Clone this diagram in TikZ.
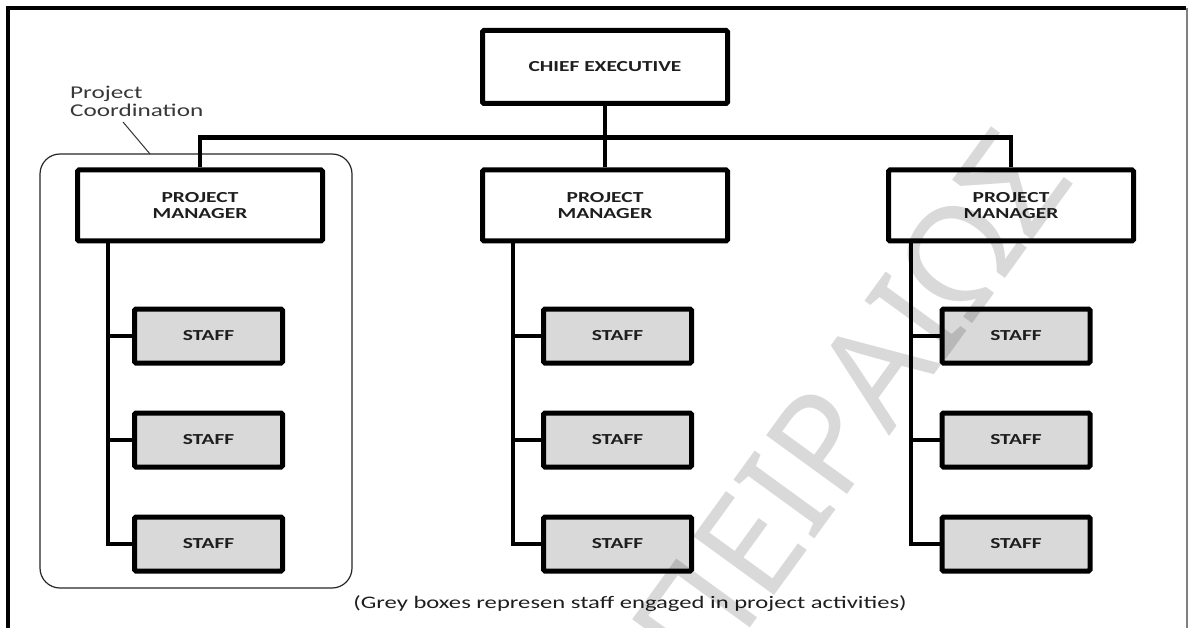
\documentclass[tikz,border=0pt]{standalone}
\usepackage{fontspec}
\setmainfont{Carlito}[FakeStretch=1.4]
\newfontfamily\markfont{Noto Sans}
\usetikzlibrary{fit}
\definecolor{staffgrey}{RGB}{217,217,217}
\definecolor{inkgrey}{RGB}{30,30,30}
\definecolor{notegrey}{RGB}{55,55,55}
\begin{document}
\begin{tikzpicture}[x=1pt,y=-1pt,
  box/.style={draw=black, line width=5pt, rounded corners=1.5pt, fill=white,
    font=\bfseries\fontsize{15.3}{16}\selectfont, text=inkgrey, align=center, inner sep=0pt},
  headbox/.style={box, minimum width=245pt, minimum height=73pt},
  pmbox/.style={box, minimum width=245pt, minimum height=71pt},
  staffbox/.style={box, fill=staffgrey, minimum width=148pt, minimum height=54pt},
  link/.style={line width=4.5pt, line join=miter},
  groupframe/.style={draw=black!85, line width=1.2pt, rounded corners=20pt,
    minimum width=312pt, minimum height=434pt, inner sep=0pt},
  note/.style={font=\fontsize{18}{18}\selectfont, text=notegrey, inner sep=0pt},
]
\useasboundingbox (0,0) rectangle (1188,628);

% page frame
\coordinate (ftl) at (8,8);
\coordinate (ftr) at (1186,8);
\coordinate (fbl) at (8,628);
\coordinate (frt) at (1187,8);
\coordinate (frb) at (1187,628);
\draw[line width=4pt] (fbl) -- (ftl) -- (ftr);
\draw[gray, line width=1.5pt] (frt) -- (frb);

% project coordination group
\node[groupframe] (grp) at (196,371) {};
\node[note, anchor=west, align=left] (lbl) at (70,101) {Project\\Coordination};
\coordinate (leadtop) at (123,122);
\coordinate (leadbot) at (150,154);
\draw[line width=1pt, black!80] (leadtop) -- (leadbot);

% boxes
\node[headbox] (ce) at (605,67) {CHIEF EXECUTIVE};
\node[pmbox] (pmL) at (200,205.5) {PROJECT\\MANAGER};
\node[pmbox] (pmM) at (605,205.5) {PROJECT\\MANAGER};
\node[pmbox] (pmR) at (1011,205.5) {PROJECT\\MANAGER};

\foreach \c/\x in {L/208.5, M/617.5, R/1016}{
  \node[staffbox] (s\c1) at (\x,336) {STAFF};
  \node[staffbox] (s\c2) at (\x,440) {STAFF};
  \node[staffbox] (s\c3) at (\x,544) {STAFF};
}

% reporting lines
\coordinate (bar) at (605,137.5);
\draw[link] (ce.south) -- (pmM.north);
\draw[link] (pmL.north) |- (bar) -| (pmR.north);

\coordinate (tL) at (108,243);
\coordinate (tM) at (513,243);
\coordinate (tR) at (911,243);
\foreach \c in {L,M,R}{
  \draw[link] (t\c) |- (s\c3.west);
  \draw[link] (t\c |- s\c1.west) -- (s\c1.west);
  \draw[link] (t\c |- s\c2.west) -- (s\c2.west);
}

% caption
\node[note, font=\fontsize{17.6}{18}\selectfont, text=inkgrey] (cap) at (630,604)
  {(Grey boxes represen staff engaged in project activities)};

% watermark
\node[font=\markfont\bfseries\fontsize{140}{140}\selectfont, text=black, opacity=0.15,
  rotate=54, inner sep=0pt] (wm) at (850,405) {ΠΕΙΡΑΙΩΣ};
\end{tikzpicture}
\end{document}
